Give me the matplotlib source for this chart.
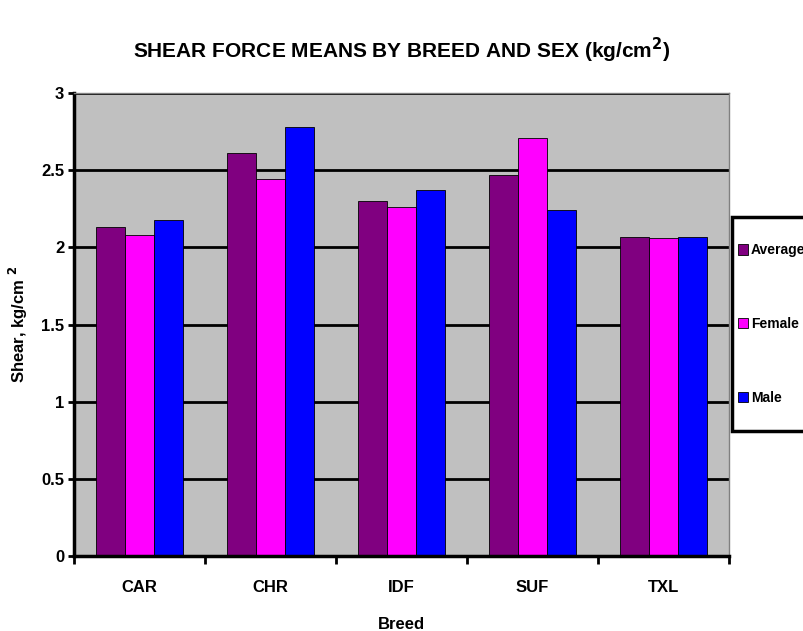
import matplotlib
matplotlib.use("Agg")
import matplotlib.pyplot as plt
from matplotlib.patches import Rectangle
import numpy as np

# data
breeds = ["CAR", "CHR", "IDF", "SUF", "TXL"]
average = [2.13, 2.61, 2.30, 2.47, 2.07]
female = [2.08, 2.44, 2.26, 2.71, 2.06]
male = [2.18, 2.78, 2.37, 2.24, 2.07]
series_names = ["Average", "Female", "Male"]
colors = ["#800080", "#FF00FF", "#0000FF"]

plt.rcParams['font.family'] = ['Liberation Sans', 'DejaVu Sans']
plt.rcParams['font.weight'] = 'bold'

fig = plt.figure(figsize=(8.04, 6.31), dpi=100)
ax = fig.add_axes([74/804, 1-556/631, 655/804, 463/631])
ax.set_facecolor("#C0C0C0")

x = np.arange(len(breeds))
w = 0.22
for i, (vals, name, c) in enumerate(zip([average, female, male], series_names, colors)):
    ax.bar(x + (i - 1) * w, vals, w, color=c, edgecolor="black", linewidth=0.6, label=name)

ax.set_xlim(-0.5, len(breeds) - 0.5)
ax.set_ylim(0, 3)
ax.set_axisbelow(True)
ax.yaxis.grid(True, color="black", linewidth=2)

ax.set_yticks(np.arange(0, 3.01, 0.5))
ax.set_yticklabels(["0", "0.5", "1", "1.5", "2", "2.5", "3"], fontsize=12, fontweight="bold")
ax.tick_params(axis="y", direction="out", length=4, width=2, pad=3)

# category boundary ticks, labels at the centres
ax.set_xticks(np.arange(-0.5, len(breeds), 1.0))
ax.set_xticklabels([])
ax.tick_params(axis="x", which="major", direction="out", length=6, width=2)
ax.set_xticks(x, minor=True)
ax.set_xticklabels(breeds, minor=True, fontsize=12, fontweight="bold")
ax.tick_params(axis="x", which="minor", length=0, pad=17)

for s in ["left", "bottom"]:
    ax.spines[s].set_linewidth(2.5)
for s in ["top", "right"]:
    ax.spines[s].set_color("#808080")
    ax.spines[s].set_linewidth(1)

ax.set_xlabel("Breed", fontsize=12, fontweight="bold", labelpad=16)
ax.set_ylabel("Shear, kg/cm $^2$", fontsize=12, fontweight="bold", labelpad=8)

fig.text(0.5, 1-50/631, r"SHEAR FORCE MEANS BY BREED AND SEX (kg/cm$^2$)",
         ha="center", va="center", fontsize=15, fontweight="bold")

# legend frame
fig.patches.append(Rectangle((732/804, 1-431/631), 0.2, 214/631, transform=fig.transFigure,
                             facecolor="white", edgecolor="black", linewidth=2.5, zorder=1))
leg = fig.legend(loc="center left", bbox_to_anchor=(735/804, 1-324/631), frameon=False,
                 fontsize=10, handlelength=0.75, handleheight=0.75, handletextpad=0.2,
                 labelspacing=4.3, borderpad=0.2, borderaxespad=0)
for t in leg.get_texts():
    t.set_fontweight("bold")

fig.savefig("out.png", dpi=100)
